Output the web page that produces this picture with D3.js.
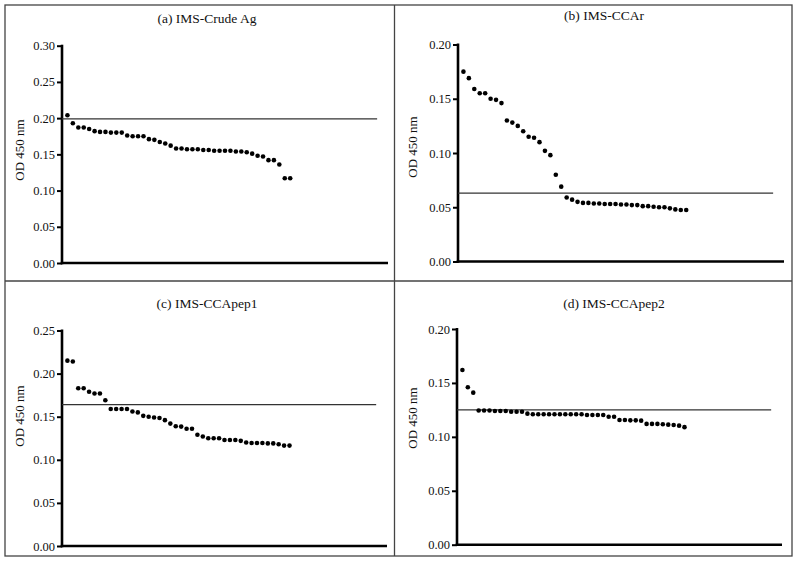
<!DOCTYPE html>
<html>
<head>
<meta charset="utf-8">
<script src="https://cdn.jsdelivr.net/npm/d3@7"></script>
<style>
  html, body { margin: 0; padding: 0; background: #fff; }
  svg { display: block; }
  text { font-family: "Liberation Serif", "Times New Roman", serif; fill: #111; }
</style>
</head>
<body>
<svg id="chart" width="798" height="563"></svg>
<script>
// ---- Data ----
const titles = ["(a) IMS-Crude Ag", "(b) IMS-CCAr", "(c) IMS-CCApep1", "(d) IMS-CCApep2"];
const yLabel = "OD 450 nm";

const crudeAg = [0.204, 0.193, 0.187, 0.187, 0.185, 0.182, 0.181, 0.181, 0.180, 0.180,
  0.180, 0.176, 0.175, 0.175, 0.175, 0.171, 0.170, 0.167, 0.165, 0.162,
  0.158, 0.158, 0.157, 0.157, 0.157, 0.156, 0.156, 0.155, 0.155, 0.155,
  0.155, 0.154, 0.154, 0.153, 0.151, 0.148, 0.147, 0.142, 0.142, 0.136,
  0.117, 0.117];
const ccar = [0.175, 0.169, 0.159, 0.155, 0.155, 0.150, 0.149, 0.146, 0.130, 0.128,
  0.125, 0.120, 0.115, 0.114, 0.110, 0.102, 0.098, 0.080, 0.069, 0.059,
  0.057, 0.055, 0.054, 0.054, 0.0535, 0.0535, 0.053, 0.053, 0.053, 0.0525,
  0.0525, 0.052, 0.052, 0.051, 0.051, 0.0505, 0.050, 0.050, 0.049, 0.048,
  0.0475, 0.0475];
const ccapep1 = [0.215, 0.214, 0.183, 0.183, 0.179, 0.177, 0.177, 0.169, 0.159, 0.159,
  0.159, 0.159, 0.156, 0.155, 0.151, 0.150, 0.149, 0.1485, 0.146, 0.142,
  0.139, 0.1385, 0.136, 0.136, 0.129, 0.127, 0.125, 0.125, 0.125, 0.123,
  0.123, 0.123, 0.122, 0.120, 0.1195, 0.1195, 0.1195, 0.119, 0.119, 0.118,
  0.1165, 0.1165];
const ccapep2 = [0.162, 0.146, 0.141, 0.1245, 0.1245, 0.1245, 0.124, 0.124, 0.124, 0.1233,
  0.1233, 0.1233, 0.1215, 0.121, 0.121, 0.121, 0.121, 0.121, 0.121, 0.121,
  0.121, 0.121, 0.121, 0.1202, 0.1202, 0.1202, 0.1202, 0.1187, 0.1187, 0.1156,
  0.1156, 0.1153, 0.1153, 0.115, 0.112, 0.112, 0.112, 0.1117, 0.1113, 0.111,
  0.1104, 0.109];
const seriesValues = [crudeAg, ccar, ccapep1, ccapep2];
const cutoffs = [0.199, 0.063, 0.164, 0.125];
const yMax = [0.30, 0.20, 0.25, 0.20];
const yTickLabels = [
  ["0.00", "0.05", "0.10", "0.15", "0.20", "0.25", "0.30"],
  ["0.00", "0.05", "0.10", "0.15", "0.20"],
  ["0.00", "0.05", "0.10", "0.15", "0.20", "0.25"],
  ["0.00", "0.05", "0.10", "0.15", "0.20"]
];
const xDomainMax = 60;
const cutoffXEnd = 58;

// ---- Layout (pixels) ----
const layout = [
  { x0: 62, x1: 388, yTop: 45.7, yBot: 263, titleX: 207, titleY: 22.5, labelX: 19, labelY: 150 },
  { x0: 458, x1: 784, yTop: 44.5, yBot: 261.5, titleX: 604, titleY: 19.5, labelX: 412, labelY: 147 },
  { x0: 62, x1: 387, yTop: 330.5, yBot: 546, titleX: 207, titleY: 307.5, labelX: 19, labelY: 416 },
  { x0: 457, x1: 782, yTop: 329, yBot: 544.7, titleX: 614, titleY: 307.5, labelX: 412, labelY: 418 }
];

const svg = d3.select("#chart");

// frame and dividers
svg.append("rect").attr("x", 5).attr("y", 5).attr("width", 787).attr("height", 551)
  .attr("fill", "none").attr("stroke", "#444").attr("stroke-width", 1.3);
svg.append("line").attr("x1", 394.5).attr("x2", 394.5).attr("y1", 5).attr("y2", 556)
  .attr("stroke", "#444").attr("stroke-width", 1.3);
svg.append("line").attr("x1", 5).attr("x2", 792).attr("y1", 281).attr("y2", 281)
  .attr("stroke", "#444").attr("stroke-width", 1.3);

layout.forEach((L, i) => {
  const g = svg.append("g");
  const x = d3.scaleLinear().domain([0, xDomainMax]).range([L.x0, L.x1]);
  const y = d3.scaleLinear().domain([0, yMax[i]]).range([L.yBot, L.yTop]);
  const tickVals = yTickLabels[i].map(Number);

  // title
  g.append("text").attr("x", L.titleX).attr("y", L.titleY)
    .attr("text-anchor", "middle").style("font-size", "13.5px").text(titles[i]);

  // y label
  g.append("text")
    .attr("transform", `translate(${L.labelX},${L.labelY}) rotate(-90)`)
    .attr("text-anchor", "middle").attr("dominant-baseline", "central")
    .style("font-size", "13px").text(yLabel);

  // y axis
  const yAxis = d3.axisLeft(y).tickValues(tickVals)
    .tickFormat((d, k) => yTickLabels[i][k]).tickSize(5).tickSizeOuter(0).tickPadding(2);
  const ya = g.append("g").attr("transform", `translate(${L.x0},0)`).call(yAxis);
  ya.select(".domain").attr("stroke", "#000").attr("stroke-width", 2.6)
    .attr("d", `M0,${L.yTop - 1}V${L.yBot + 1.3}`);
  ya.selectAll(".tick line").attr("stroke", "#000").attr("stroke-width", 2);
  ya.selectAll(".tick text").style("font-size", "12.5px")
    .style("font-family", "'Liberation Serif', 'Times New Roman', serif").attr("fill", "#111");

  // x axis (no ticks)
  const xAxis = d3.axisBottom(x).tickValues([]).tickSizeOuter(0);
  const xa = g.append("g").attr("transform", `translate(0,${L.yBot})`).call(xAxis);
  xa.select(".domain").attr("stroke", "#000").attr("stroke-width", 2.6)
    .attr("d", `M${L.x0 - 1.3},0H${L.x1}`);

  // cutoff line
  g.append("line")
    .attr("x1", x(0)).attr("x2", x(cutoffXEnd))
    .attr("y1", y(cutoffs[i])).attr("y2", y(cutoffs[i]))
    .attr("stroke", "#333").attr("stroke-width", 1.1);

  // dots
  g.selectAll("circle.dot").data(seriesValues[i]).join("circle")
    .attr("class", "dot")
    .attr("cx", (d, k) => x(k + 1))
    .attr("cy", d => y(d))
    .attr("r", 2.3)
    .attr("fill", "#000");
});
</script>
</body>
</html>
